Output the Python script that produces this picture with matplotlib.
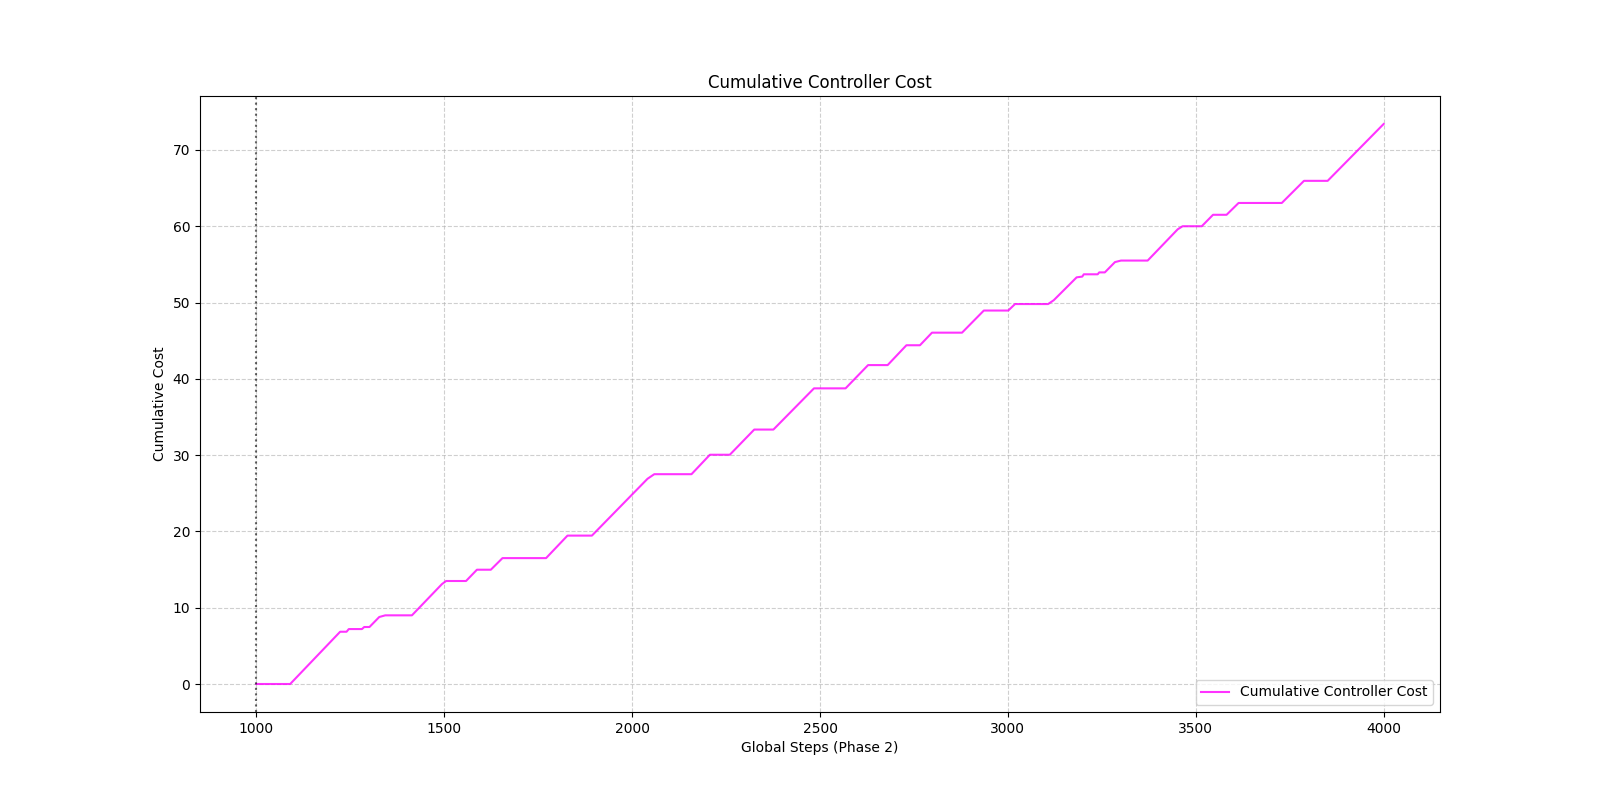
import matplotlib
matplotlib.use('Agg')
import matplotlib.pyplot as plt

# Точки излома кривой
steps = [1000, 1090, 1223, 1240, 1246, 1281, 1287, 1301, 1327, 1343, 1414,
         1494, 1505, 1558, 1587, 1624, 1655, 1771, 1828, 1893, 2041, 2059,
         2158, 2207, 2260, 2325, 2376, 2484, 2568, 2628, 2680, 2730, 2766,
         2798, 2878, 2936, 3001, 3019, 3107, 3122, 3183, 3198, 3202,
         3239, 3243, 3258, 3285, 3301, 3372, 3452, 3465, 3516, 3546, 3582,
         3614, 3729, 3788, 3851, 4000]
cost = [0.0, 0.0, 6.85, 6.85, 7.2, 7.2, 7.47, 7.47, 8.78, 9.0, 9.0,
        13.1, 13.5, 13.5, 14.98, 14.98, 16.5, 16.5, 19.45, 19.45, 26.9, 27.5,
        27.5, 30.05, 30.05, 33.35, 33.35, 38.75, 38.75, 41.8, 41.8, 44.4, 44.4,
        46.05, 46.05, 48.95, 48.95, 49.8, 49.8, 50.3, 53.3, 53.4, 53.7,
        53.7, 53.95, 53.95, 55.3, 55.5, 55.5, 59.6, 60.0, 60.0, 61.5, 61.5,
        63.05, 63.05, 65.95, 65.95, 73.4]

phase_start = 1000

plt.figure(figsize=(16, 8))
plt.plot(steps, cost, color='magenta', alpha=0.8, label='Cumulative Controller Cost')
plt.axvline(x=phase_start, color='black', linestyle=':', alpha=0.6)
plt.title('Cumulative Controller Cost')
plt.xlabel('Global Steps (Phase 2)')
plt.ylabel('Cumulative Cost')
plt.grid(True, linestyle='--', alpha=0.6)
plt.legend(loc='lower right')
plt.savefig('out.png', dpi=100)
